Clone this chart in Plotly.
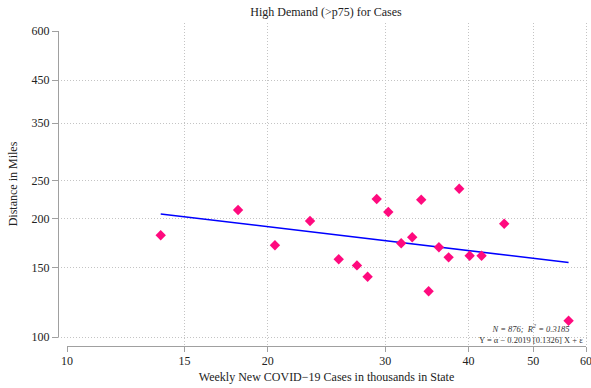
import numpy as np
import plotly.graph_objects as go

# Weekly new COVID-19 cases (thousands) and travel distance (miles), high-demand states
cases = [13.82, 18.05, 20.50, 23.14, 25.55, 27.21, 28.23, 29.13, 30.32, 31.70,
         32.93, 33.97, 34.85, 36.11, 37.34, 38.73, 40.15, 41.84, 45.24, 56.50]
distance = [181.4, 210.4, 171.1, 197.2, 157.6, 152.1, 142.3, 224.3, 207.9, 173.2,
            179.4, 223.3, 130.7, 169.1, 159.4, 238.3, 160.9, 160.9, 194.1, 110.0]

# log-log fit: log10(Y) = alpha + beta * log10(X)
fit_alpha = 2.54305
fit_beta = -0.2019
fit_se = 0.1326
n_obs = 876
r2 = 0.3185

x_ticks = [10, 15, 20, 30, 40, 50, 60]
y_ticks = [100, 150, 200, 250, 350, 450, 600]
x_grid = [15, 20, 30, 40, 50, 60]
y_grid = [100, 150, 200, 250, 350, 450]

W, H = 591, 388
serif = "Liberation Serif, Times New Roman, serif"

def px_x(p):
    return p / W

def px_y(p):
    return (H - p) / H

# axis geometry (pixels) -> paper fractions
ax_left, ax_right, ax_top, ax_bottom = 67, 586, 31, 337
x_per_dec = (ax_right - ax_left) / (np.log10(60) - 1)
y_per_dec = (ax_bottom - ax_top) / (np.log10(600) - 2)
grid_left, grid_right, grid_top, grid_bottom = 58, 588, 23, 345
grid_xrange = [1 - (ax_left - grid_left) / x_per_dec,
               np.log10(60) + (grid_right - ax_right) / x_per_dec]
grid_yrange = [2 - (grid_bottom - ax_bottom) / y_per_dec,
               np.log10(600) + (ax_top - grid_top) / y_per_dec]
x_edge_range = [1 - 1e-6, np.log10(60) + 1e-6]
y_edge_range = [2 - 1e-6, np.log10(600) + 1e-6]

xs = np.array([min(cases), max(cases)])
fit_y = 10 ** (fit_alpha + fit_beta * np.log10(xs))

fig = go.Figure()
fig.add_trace(go.Scatter(
    x=xs, y=fit_y, mode="lines",
    line=dict(color="#0000ff", width=1.5),
    showlegend=False, hoverinfo="skip"))
fig.add_trace(go.Scatter(
    x=cases, y=distance, mode="markers",
    marker=dict(symbol="diamond", size=8, color="#ff0a7e"),
    showlegend=False))
# carriers for the framing axes (line/ticks and x labels)
fig.add_trace(go.Scatter(x=[], y=[], xaxis="x2", yaxis="y2",
                         showlegend=False, hoverinfo="skip"))
fig.add_trace(go.Scatter(x=[], y=[], xaxis="x3", yaxis="y2",
                         showlegend=False, hoverinfo="skip"))

grid_style = dict(showgrid=True, gridcolor="#c4c4c4", griddash="1px,2px", gridwidth=1,
                  zeroline=False, showline=False, ticks="", showticklabels=False,
                  automargin=False)
tickfont = dict(family=serif, size=12, color="#222222")

fig.update_layout(
    template="none",
    width=W, height=H,
    margin=dict(l=0, r=0, t=0, b=0, autoexpand=False),
    paper_bgcolor="white", plot_bgcolor="rgba(0,0,0,0)",
    font=dict(family=serif, size=12, color="#222222"),
    title=dict(text="High Demand (>p75) for Cases", x=px_x(326), xanchor="center",
               y=px_y(12), yanchor="middle", font=dict(size=12, color="#222222")),
    xaxis=dict(type="log", range=grid_xrange, domain=[px_x(grid_left), px_x(grid_right)],
               tickvals=x_grid, **grid_style),
    yaxis=dict(type="log", range=grid_yrange, domain=[px_y(grid_bottom), px_y(grid_top)],
               tickvals=y_grid, **grid_style),
    # x axis line and tick marks
    xaxis2=dict(type="log", range=x_edge_range,
                domain=[px_x(ax_left), px_x(ax_right)],
                anchor="free", position=px_y(346),
                tickvals=x_ticks, showticklabels=False,
                ticks="outside", ticklen=5, tickcolor="#a0a0a0", tickwidth=1,
                showline=True, linecolor="#a0a0a0", linewidth=1,
                showgrid=False, zeroline=False, automargin=False),
    # x tick labels and title
    xaxis3=dict(type="log", range=x_edge_range,
                domain=[px_x(ax_left), px_x(ax_right)],
                anchor="free", position=px_y(352),
                tickvals=x_ticks, ticktext=[str(v) for v in x_ticks],
                ticks="", showline=False, showgrid=False, zeroline=False,
                automargin=False, ticklabeloverflow="allow", tickfont=tickfont,
                title=dict(text="Weekly New COVID\u221219 Cases in thousands in State",
                           standoff=5, font=dict(size=12))),
    yaxis2=dict(type="log", range=y_edge_range,
                domain=[px_y(ax_bottom), px_y(ax_top)],
                anchor="free", position=px_x(58),
                tickvals=y_ticks, ticktext=[str(v) for v in y_ticks],
                ticks="outside", ticklen=6, tickcolor="#a0a0a0", tickwidth=1,
                showline=True, linecolor="#a0a0a0", linewidth=1,
                showgrid=False, zeroline=False, automargin=False, tickfont=tickfont,
                title=dict(text="Distance in Miles", standoff=10, font=dict(size=12))),
)

fig.add_annotation(
    xref="paper", yref="paper", x=px_x(531), y=px_y(334),
    xanchor="center", yanchor="middle", showarrow=False, align="center",
    text=(f"<i>N = {n_obs};  R<sup>2</sup> = {r2:.4f}</i><br>"
          f"Y = \u03b1 \u2212 {abs(fit_beta):.4f} [{fit_se:.4f}] X + \u03b5"),
    font=dict(family=serif, size=8.5, color="#333333"))

fig.write_html("out.html")
